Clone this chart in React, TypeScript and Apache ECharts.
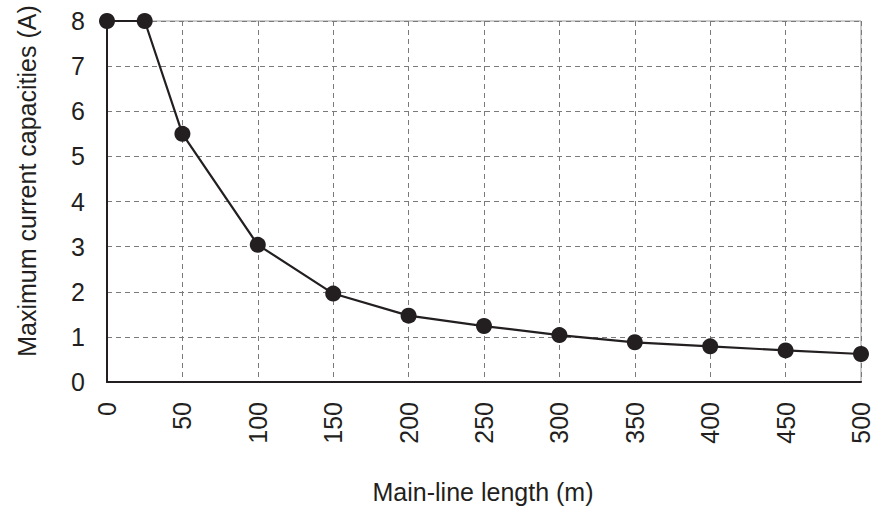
import React, { useEffect, useRef } from "react";
import * as echarts from "echarts";

const lengths = [0, 25, 50, 100, 150, 200, 250, 300, 350, 400, 450, 500];
const capacities = [8, 8, 5.5, 3.04, 1.96, 1.47, 1.24, 1.04, 0.88, 0.79, 0.7, 0.62];
const xTitle = "Main-line length (m)";
const yTitle = "Maximum current capacities (A)";

const INK = "#231f20";
const FONT = "Liberation Sans, Arial, sans-serif";

export default function App() {
  const ref = useRef<HTMLDivElement>(null);
  useEffect(() => {
    if (!ref.current) return;
    const chart = echarts.init(ref.current, undefined, { renderer: "svg" });
    const data = lengths.map((x, i) => [x, capacities[i]]);
    chart.setOption({
      animation: false,
      backgroundColor: "#ffffff",
      grid: {
        left: 107,
        right: 16,
        top: 21,
        bottom: 126,
        show: true,
        borderColor: "#9a9a9a",
        borderWidth: 1,
      },
      xAxis: {
        type: "value",
        min: 0,
        max: 500,
        interval: 50,
        axisLine: { show: true, onZero: false, lineStyle: { color: INK, width: 2 } },
        axisTick: { show: false },
        axisLabel: {
          rotate: 90,
          margin: 20,
          fontSize: 25,
          color: INK,
          fontFamily: FONT,
        },
        splitLine: {
          show: true,
          lineStyle: { color: "#7a7a7a", type: [5, 4], width: 1 },
        },
      },
      yAxis: {
        type: "value",
        min: 0,
        max: 8,
        interval: 1,
        axisLine: { show: true, lineStyle: { color: INK, width: 2 } },
        axisTick: { show: false },
        axisLabel: {
          margin: 22,
          fontSize: 25,
          color: INK,
          fontFamily: FONT,
        },
        splitLine: {
          show: true,
          lineStyle: { color: "#7a7a7a", type: [5, 4], width: 1 },
        },
      },
      graphic: [
        {
          type: "text",
          x: 483,
          y: 492,
          style: {
            text: xTitle,
            fontSize: 25,
            fontFamily: FONT,
            fill: INK,
            align: "center",
            verticalAlign: "middle",
          },
        },
        {
          type: "text",
          x: 27,
          y: 181,
          rotation: Math.PI / 2,
          style: {
            text: yTitle,
            fontSize: 25,
            fontFamily: FONT,
            fill: INK,
            align: "center",
            verticalAlign: "middle",
          },
        },
      ],
      series: [
        {
          type: "line",
          data,
          clip: false,
          symbol: "circle",
          symbolSize: 16,
          itemStyle: { color: INK },
          lineStyle: { color: INK, width: 2.2 },
        },
      ],
    });
    return () => chart.dispose();
  }, []);
  return <div ref={ref} style={{ width: 877, height: 508, position: "absolute", left: 0, top: 0 }} />;
}
